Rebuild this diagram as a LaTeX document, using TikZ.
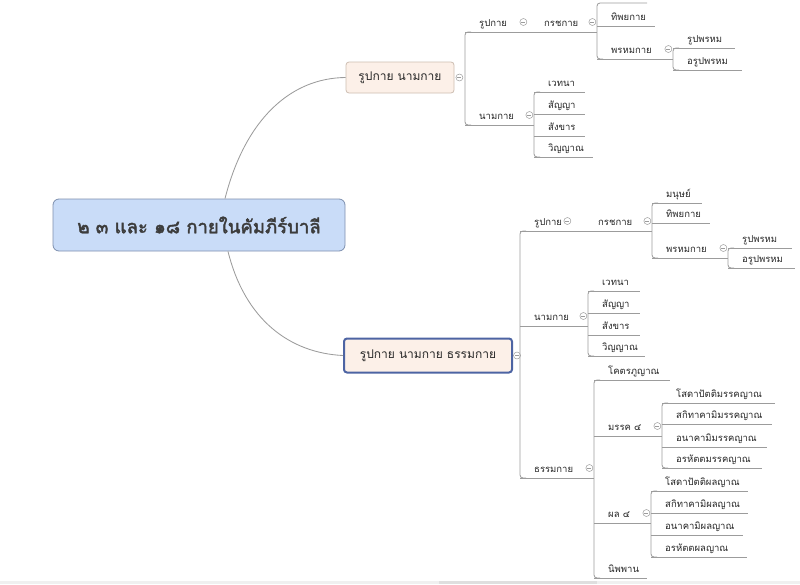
\documentclass[tikz,border=0pt]{standalone}
\usepackage{fontspec}
\newfontfamily\thaifont[Script=Thai]{Loma}
\newfontfamily\thaibold[Script=Thai, FakeBold=2.2]{Loma}
\definecolor{lngray}{HTML}{9C9C9C}
\definecolor{txt}{HTML}{262626}
\definecolor{peach}{HTML}{FCF0E8}
\definecolor{peachline}{HTML}{CDBDB1}
\definecolor{rootfill}{HTML}{C9DCF8}
\definecolor{rootline}{HTML}{7D8FAE}
\definecolor{selline}{HTML}{4D64A3}
\begin{document}
\begin{tikzpicture}[x=1pt,y=-1pt,
  ln/.style={draw=lngray, line width=0.85pt},
  topic/.style={font=\thaifont\fontsize{9.5}{11}\selectfont, text=txt, anchor=south west,
    text width=#1, align=left, inner xsep=0pt, inner ysep=2.5pt, text height=7pt, text depth=3pt,
    execute at begin node=\hspace*{14pt},
    append after command={(\tikzlastnode.south west) edge[ln] (\tikzlastnode.south east)}},
  fold/.style={circle, draw=lngray, fill=white, line width=0.5pt, inner sep=0pt, minimum size=7pt,
    path picture={\draw[lngray, line width=0.5pt] ([xshift=-2pt]path picture bounding box.center) -- ([xshift=2pt]path picture bounding box.center);}},
  box/.style={draw=peachline, fill=peach, rounded corners=3pt, text=txt, line width=0.8pt,
    font=\thaifont\fontsize{12}{14}\selectfont, minimum height=31pt, minimum width=108pt},
  selbox/.style={box, draw=selline, line width=2pt, minimum height=34pt, minimum width=168pt},
  rootbox/.style={draw=rootline, fill=rootfill, rounded corners=6pt, text=txt!90!white, line width=0.8pt,
    font=\thaibold\fontsize{18.5}{22}\selectfont, minimum height=52pt, minimum width=292pt}]
\useasboundingbox (0,0) rectangle (800,584);
\fill[gray!12] (0,581) rectangle (800,584);
\fill[gray!25] (439,581) rectangle (597,584);
% central topic
\node[rootbox] (root) at (199,225) {๒ ๓ และ ๑๘ กายในคัมภีร์บาลี};
% upper branch
\node[box] (top) at (400,77.5) {รูปกาย นามกาย};
\draw[ln] ([xshift=26pt]root.north) .. controls (245,120) and (290,78) .. (top.west);
\node[fold] (ftop) at ([xshift=5pt]top.east) {};
\node[topic=63pt] (rp1) at (465,32) {รูปกาย};
\node[topic=67pt] (kc1) at (530,32) {กรชกาย};
\draw[ln] (rp1.south east) -- (kc1.south west);
\coordinate (mn1) at (597,3);
\node[topic=58pt] (ty1) at (597,26) {ทิพยกาย};
\node[topic=76pt] (ph1) at (597,59) {พรหมกาย};
\node[topic=62pt] (rpm1) at (673,48) {รูปพรหม};
\node[topic=69pt] (arp1) at (673,70) {อรูปพรหม};
\node[topic=69pt] (nm1) at (465,125) {นามกาย};
\node[topic=51pt] (wt1) at (534,92) {เวทนา};
\node[topic=51pt] (sy1) at (534,114) {สัญญา};
\node[topic=51pt] (sk1) at (534,136) {สังขาร};
\node[topic=59pt] (wy1) at (534,157) {วิญญาณ};
\draw[ln, rounded corners=3pt] ([xshift=6pt]rp1.south west) -- (rp1.south west) -- (nm1.south west) -- ([xshift=6pt]nm1.south west);
\draw[ln, rounded corners=3pt] ([xshift=50pt]mn1) -- (mn1) -- (ph1.south west) -- ([xshift=6pt]ph1.south west);
\draw[ln, rounded corners=3pt] ([xshift=6pt]rpm1.south west) -- (rpm1.south west) -- (arp1.south west) -- ([xshift=6pt]arp1.south west);
\draw[ln, rounded corners=3pt] ([xshift=6pt]wt1.south west) -- (wt1.south west) -- (wy1.south west) -- ([xshift=6pt]wy1.south west);
\node[fold] (frp1) at ([xshift=-5pt,yshift=10pt]rp1.south east) {};
\node[fold] (fkc1) at ([xshift=-5pt,yshift=10pt]kc1.south east) {};
\node[fold] (fph1) at ([xshift=-5pt,yshift=10pt]ph1.south east) {};
\node[fold] (fnm1) at ([xshift=-5pt,yshift=10pt]nm1.south east) {};
% lower branch
\node[selbox] (bot) at (428,355.5) {รูปกาย นามกาย ธรรมกาย};
\draw[ln] ([xshift=29pt]root.south) .. controls (245,320) and (290,353) .. (bot.west);
\node[fold] (fbot) at ([xshift=4pt]bot.east) {};
\node[topic=52pt] (rp2) at (520,231) {รูปกาย};
\node[topic=68pt] (kc2) at (584,231) {กรชกาย};
\draw[ln] (rp2.south east) -- (kc2.south west);
\node[topic=50pt] (mn2) at (652,203) {มนุษย์};
\node[topic=58pt] (ty2) at (652,223) {ทิพยกาย};
\node[topic=76pt] (ph2) at (652,258) {พรหมกาย};
\node[topic=64pt] (rpm2) at (728,248) {รูปพรหม};
\node[topic=67pt] (arp2) at (728,268) {อรูปพรหม};
\node[topic=68pt] (nm2) at (520,326) {นามกาย};
\node[topic=52pt] (wt2) at (588,291) {เวทนา};
\node[topic=52pt] (sy2) at (588,313) {สัญญา};
\node[topic=52pt] (sk2) at (588,335) {สังขาร};
\node[topic=57pt] (wy2) at (588,356) {วิญญาณ};
\node[topic=74pt] (dh2) at (520,478) {ธรรมกาย};
\node[topic=76pt] (kt) at (594,380) {โคตรภูญาณ};
\node[topic=68pt] (mk) at (594,436) {มรรค ๔};
\node[topic=113pt] (sdm) at (662,403) {โสดาปัตติมรรคญาณ};
\node[topic=110pt] (skm) at (662,424) {สกิทาคามิมรรคญาณ};
\node[topic=105pt] (anm) at (662,447) {อนาคามิมรรคญาณ};
\node[topic=100pt] (ahm) at (662,468) {อรหัตตมรรคญาณ};
\node[topic=57pt] (ph) at (594,523) {ผล ๔};
\node[topic=97pt] (sdp) at (651,491) {โสดาปัตติผลญาณ};
\node[topic=97pt] (skp) at (651,513) {สกิทาคามิผลญาณ};
\node[topic=92pt] (anp) at (651,535) {อนาคามิผลญาณ};
\node[topic=96pt] (ahp) at (651,557) {อรหัตตผลญาณ};
\node[topic=53pt] (nb) at (594,578) {นิพพาน};
\draw[ln, rounded corners=3pt] ([xshift=6pt]rp2.south west) -- (rp2.south west) -- (dh2.south west) -- ([xshift=6pt]dh2.south west);
\draw[ln, rounded corners=3pt] ([xshift=6pt]mn2.south west) -- (mn2.south west) -- (ph2.south west) -- ([xshift=6pt]ph2.south west);
\draw[ln, rounded corners=3pt] ([xshift=6pt]rpm2.south west) -- (rpm2.south west) -- (arp2.south west) -- ([xshift=6pt]arp2.south west);
\draw[ln, rounded corners=3pt] ([xshift=6pt]wt2.south west) -- (wt2.south west) -- (wy2.south west) -- ([xshift=6pt]wy2.south west);
\draw[ln, rounded corners=3pt] ([xshift=6pt]kt.south west) -- (kt.south west) -- (nb.south west) -- ([xshift=6pt]nb.south west);
\draw[ln, rounded corners=3pt] ([xshift=6pt]sdm.south west) -- (sdm.south west) -- (ahm.south west) -- ([xshift=6pt]ahm.south west);
\draw[ln, rounded corners=3pt] ([xshift=6pt]sdp.south west) -- (sdp.south west) -- (ahp.south west) -- ([xshift=6pt]ahp.south west);
\node[fold] (frp2) at ([xshift=-5pt,yshift=10pt]rp2.south east) {};
\node[fold] (fkc2) at ([xshift=-5pt,yshift=10pt]kc2.south east) {};
\node[fold] (fph2) at ([xshift=-5pt,yshift=10pt]ph2.south east) {};
\node[fold] (fnm2) at ([xshift=-5pt,yshift=10pt]nm2.south east) {};
\node[fold] (fdh2) at ([xshift=-5pt,yshift=10pt]dh2.south east) {};
\node[fold] (fmk) at ([xshift=-5pt,yshift=10pt]mk.south east) {};
\node[fold] (fph) at ([xshift=-5pt,yshift=10pt]ph.south east) {};
\end{tikzpicture}
\end{document}
